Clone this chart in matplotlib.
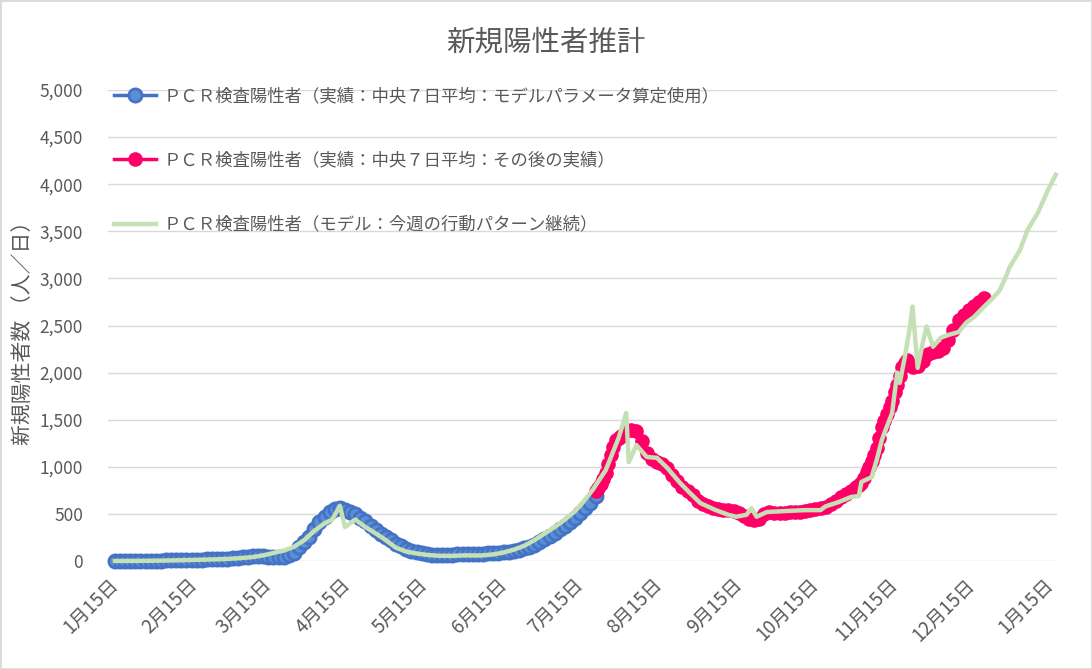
import numpy as np
import matplotlib
matplotlib.use("Agg")
import matplotlib.pyplot as plt
from matplotlib.lines import Line2D
from matplotlib.patches import Rectangle

plt.rcParams['font.family'] = ['Noto Sans CJK JP', 'DejaVu Sans']

# ---------------- data ----------------
title = "新規陽性者推計"
ylabel = "新規陽性者数 （人／日）"
label_blue = "ＰＣＲ検査陽性者（実績：中央７日平均：モデルパラメータ算定使用）"
label_red = "ＰＣＲ検査陽性者（実績：中央７日平均：その後の実績）"
label_green = "ＰＣＲ検査陽性者（モデル：今週の行動パターン継続）"

start_date = "2020-01-15"

# actual values, one every 2 days starting 2020-01-15
blue_vals = [0, 0, 0, 0, 1, 1, 2, 3, 4, 5, 6, 7, 8, 9, 10, 12, 13, 15, 18, 19,
             20, 22, 24, 28, 35, 38, 42, 50, 55, 50, 42, 38, 40, 45, 60, 90, 150, 200,
             260, 340, 410, 470, 520, 550, 560, 545, 525, 500, 460, 420, 375, 330, 290,
             255, 220, 185, 155, 130, 110, 95, 85, 75, 68, 62, 60, 62, 65, 70, 73, 75,
             75, 75, 78, 80, 82, 85, 92, 100, 110, 120, 135, 150, 175, 200, 230, 265,
             300, 335, 370, 410, 460, 505, 560, 620, 690]
blue_first_day = 0

# actual values (later): days since 2020-01-15 and value
red_days = [188, 189, 190, 191, 192, 193, 194, 195, 196, 197, 198, 200, 202, 204, 206,
            208, 210, 212, 214, 216, 218, 220, 222, 224, 226, 228, 230, 232, 234, 236,
            238, 240, 242, 244, 246, 248, 250, 252, 254, 256, 258, 260, 262, 264, 266,
            268, 270, 272, 274, 276, 278, 280, 282, 284, 286, 288, 290, 291, 292, 293,
            294, 295, 296, 297, 298, 299, 300, 301, 302, 303, 304, 305, 306, 307, 308,
            309, 310, 311, 312, 314, 316, 318, 320, 322, 324, 326, 328, 330, 332, 334,
            336, 338, 340]
red_vals = [740, 780, 820, 870, 930, 1030, 1130, 1210, 1280, 1310, 1330, 1380, 1390,
            1380, 1270, 1150, 1080, 1050, 1030, 990, 910, 850, 790, 740, 700, 640, 600,
            580, 560, 550, 545, 540, 530, 510, 480, 450, 440, 450, 500, 520, 510, 510,
            510, 515, 520, 525, 530, 540, 550, 560, 575, 600, 640, 680, 710, 740, 790,
            810, 830, 880, 940, 1000, 1060, 1130, 1200, 1310, 1420, 1490, 1560, 1630,
            1700, 1790, 1870, 1960, 2060, 2100, 2130, 2090, 2060, 2070, 2120, 2200, 2215,
            2230, 2260, 2350, 2450, 2560, 2610, 2660, 2710, 2750, 2790]

# model (days since 2020-01-15, value)
green_days = [0, 6, 12, 18, 24, 30, 36, 42, 48, 54, 58, 62, 66, 70, 74, 78, 82, 85, 88,
              90, 94, 98, 101, 105, 110, 114, 118, 122, 127, 132, 137, 143, 148, 152,
              156, 160, 164, 168, 172, 176, 180, 183, 187, 192, 197, 200, 201, 204, 208,
              212, 216, 221, 225, 229, 235, 240, 243, 247, 249, 251, 255, 262, 270, 276,
              278, 283, 288, 291, 292, 296, 298, 300, 301, 304, 306, 307, 309, 311, 312,
              314, 316, 317.5, 320, 323, 326, 330, 333, 336, 340, 343, 346, 348, 350,
              354, 357, 361, 365, 368]
green_vals = [0, 1, 2, 4, 7, 11, 15, 20, 28, 42, 60, 85, 110, 150, 220, 320, 400, 440,
              585, 360, 440, 360, 310, 240, 140, 100, 80, 65, 55, 55, 60, 58, 70, 90,
              120, 160, 220, 290, 360, 440, 530, 620, 760, 965, 1305, 1570, 1050, 1230,
              1105, 1095, 990, 830, 720, 615, 540, 490, 470, 490, 560, 470, 520, 530,
              540, 540, 580, 625, 680, 690, 840, 890, 1075, 1285, 1360, 1570, 2000, 1890,
              2170, 2490, 2700, 2050, 2315, 2490, 2275, 2370, 2400, 2430, 2530, 2590,
              2700, 2780, 2870, 2985, 3120, 3300, 3515, 3695, 3940, 4100]

xtick_dates = ["2020-01-15", "2020-02-15", "2020-03-15", "2020-04-15", "2020-05-15",
               "2020-06-15", "2020-07-15", "2020-08-15", "2020-09-15", "2020-10-15",
               "2020-11-15", "2020-12-15", "2021-01-15"]
xtick_labels = ["1月15日", "2月15日", "3月15日", "4月15日", "5月15日", "6月15日",
                "7月15日", "8月15日", "9月15日", "10月15日", "11月15日", "12月15日",
                "1月15日"]
ytick_vals = [0, 500, 1000, 1500, 2000, 2500, 3000, 3500, 4000, 4500, 5000]

# ---------------- style ----------------
TXT = '#595959'
GRID = '#D9D9D9'
BLUE = '#4472C4'
BLUE_FILL = '#5B8FD3'
RED = '#FF0066'
GREEN = '#C5E0B4'

blue_days = [blue_first_day + 2 * i for i in range(len(blue_vals))]

W, H = 1092, 669
fig = plt.figure(figsize=(W / 100, H / 100), dpi=100)
ax_left, ax_right, ax_top, ax_bot = 108, 1057, 90, 561
ax = fig.add_axes([ax_left / W, 1 - ax_bot / H, (ax_right - ax_left) / W,
                   (ax_bot - ax_top) / H])

blue_style = dict(color=BLUE, lw=2.5, marker='o', ms=9.5, mfc=BLUE_FILL, mec=BLUE,
                  mew=2.0)
red_style = dict(color=RED, lw=2.5, marker='o', ms=9.5, mfc=RED, mec=RED, mew=1.0)
green_style = dict(color=GREEN, lw=3.2)

ax.plot(blue_days, blue_vals, clip_on=False, zorder=3, **blue_style)
ax.plot(red_days, red_vals, clip_on=False, zorder=4, **red_style)
ax.plot(green_days, green_vals, clip_on=False, zorder=5, solid_joinstyle='round',
        **green_style)

s0 = np.datetime64(start_date)
xticks = [int((np.datetime64(d) - s0).astype(int)) for d in xtick_dates]
ax.set_xticks(xticks)
ax.set_xticklabels(xtick_labels, rotation=45, ha='right', va='center',
                   rotation_mode='anchor', fontsize=13.5, color=TXT)
ax.set_yticks(ytick_vals)
ax.set_yticklabels([f"{v:,}" for v in ytick_vals], fontsize=12.5, color=TXT)
ax.set_xlim(-2.7, 368.5)
ax.set_ylim(0, 5000)
ax.tick_params(axis='both', length=0)
ax.tick_params(axis='y', pad=18)
ax.tick_params(axis='x', pad=15)
ax.yaxis.grid(True, color=GRID, lw=1.0)
ax.set_axisbelow(True)
for sp in ax.spines.values():
    sp.set_visible(False)

legend_handles = [Line2D([], [], **blue_style), Line2D([], [], **red_style),
                  Line2D([], [], **green_style)]
leg = ax.legend(legend_handles, [label_blue, label_red, label_green], loc='upper left',
                bbox_to_anchor=(114 / W, 1 - 87 / H), bbox_transform=fig.transFigure,
                frameon=False, fontsize=12.5, handlelength=2.4, handletextpad=0.45,
                labelspacing=2.68, borderpad=0, borderaxespad=0)
for t in leg.get_texts():
    t.set_color(TXT)

fig.text(0.5, 1 - 43 / H, title, ha='center', va='center', fontsize=20.5, color=TXT)
fig.text(23 / W, 1 - 328 / H, ylabel, ha='center', va='center', rotation=90,
         fontsize=15, color=TXT)

fig.patches.append(Rectangle((0, 0), 1, 1, transform=fig.transFigure, fill=False,
                             edgecolor=GRID, lw=2))

fig.savefig("out.png", dpi=100)
